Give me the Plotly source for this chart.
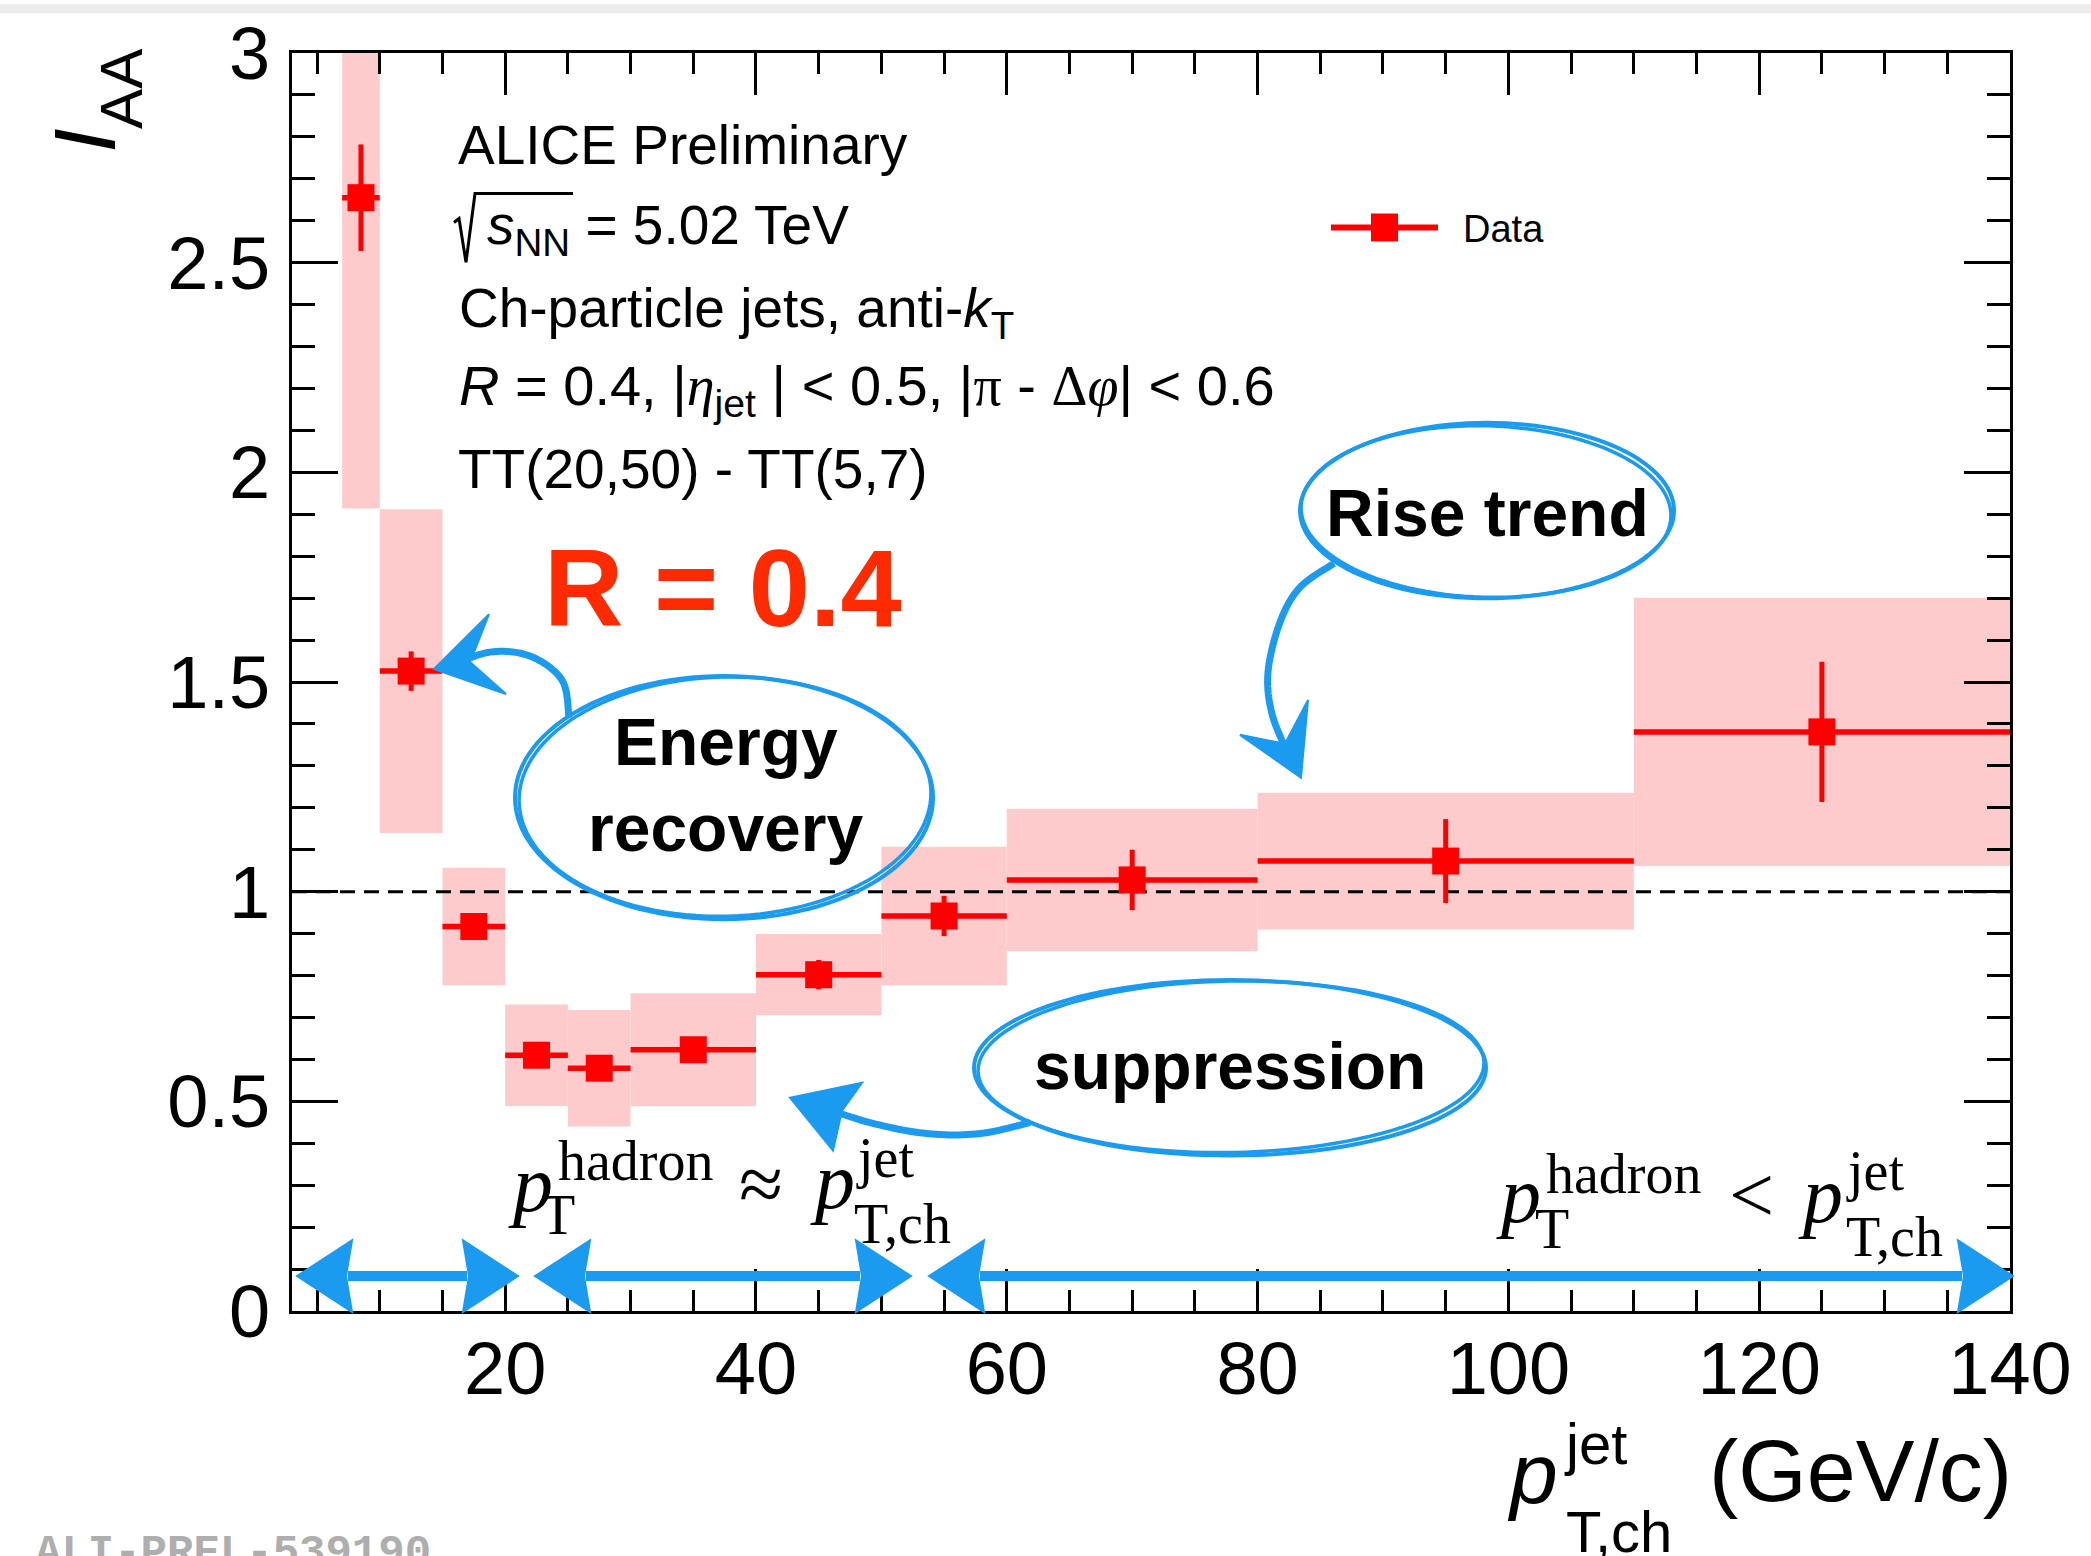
import math
import plotly.graph_objects as go

# ---------------- data ----------------
bin_lo = [7, 10, 15, 20, 25, 30, 40, 50, 60, 80, 110]
bin_hi = [10, 15, 20, 25, 30, 40, 50, 60, 80, 110, 140]
pt_center = [8.5, 12.5, 17.5, 22.5, 27.5, 35, 45, 55, 70, 95, 125]
iaa = [2.655, 1.526, 0.917, 0.610, 0.579, 0.623, 0.802, 0.942, 1.028, 1.073, 1.381]
stat_err = [0.127, 0.047, 0.02, 0.02, 0.02, 0.02, 0.035, 0.048, 0.072, 0.10, 0.167]
sys_err = [0.741, 0.386, 0.14, 0.121, 0.139, 0.135, 0.097, 0.165, 0.17, 0.163, 0.32]

x_ticks = [20, 40, 60, 80, 100, 120, 140]
y_ticks = [0, 0.5, 1, 1.5, 2, 2.5, 3]
x_range = [3, 140]
y_range = [0, 3]
ref_level = 1.0

# ---------------- geometry helpers ----------------
W, H = 2091, 1556
L, R, T, B = 292, 2010, 49, 1311
SANS = "Liberation Sans, Arial, Helvetica, sans-serif"
SERIF = "Liberation Serif, Times New Roman, serif"
MONO = "Liberation Mono, Courier New, monospace"
BLUE = "#1A9BF0"
PINK = "#FDCBCB"
RED = "#FF0000"


def px(x):
    return (x - L) / (R - L)


def py(y):
    return (B - y) / (B - T)


annotations = []
shapes = []


def txt(text, x, base, size, family=SANS, xanchor="left", color="black", asc=None):
    if asc is None:
        asc = 0.891 if family == SERIF else 0.905
    top = base - asc * size
    annotations.append(dict(
        text=text, x=px(x), y=py(top), xref="paper", yref="paper",
        xanchor=xanchor, yanchor="top", showarrow=False, borderpad=0,
        font=dict(family=family, size=size, color=color)))


def path_from_pts(pts, close=False):
    s = "M " + " L ".join(f"{px(a):.5f},{py(b):.5f}" for a, b in pts)
    return s + (" Z" if close else "")


def ellipse(cx, cy, rx, ry, rot=0.0, width=4, n=120):
    c, s_ = math.cos(math.radians(rot)), math.sin(math.radians(rot))
    pts = []
    for k in range(n + 1):
        t = 2 * math.pi * k / n
        ex, ey = rx * math.cos(t), ry * math.sin(t)
        pts.append((cx + ex * c - ey * s_, cy + ex * s_ + ey * c))
    shapes.append(dict(type="path", xref="paper", yref="paper",
                       path=path_from_pts(pts, True),
                       line=dict(color=BLUE, width=width), layer="above"))


def curve(pts, width=6):
    dense = []
    P = [pts[0]] + pts + [pts[-1]]
    for i in range(1, len(P) - 2):
        p0, p1, p2, p3 = P[i - 1], P[i], P[i + 1], P[i + 2]
        for j in range(12):
            t = j / 12
            t2, t3 = t * t, t * t * t
            xx = 0.5 * ((2 * p1[0]) + (-p0[0] + p2[0]) * t + (2 * p0[0] - 5 * p1[0] + 4 * p2[0] - p3[0]) * t2 + (-p0[0] + 3 * p1[0] - 3 * p2[0] + p3[0]) * t3)
            yy = 0.5 * ((2 * p1[1]) + (-p0[1] + p2[1]) * t + (2 * p0[1] - 5 * p1[1] + 4 * p2[1] - p3[1]) * t2 + (-p0[1] + 3 * p1[1] - 3 * p2[1] + p3[1]) * t3)
            dense.append((xx, yy))
    dense.append(pts[-1])
    shapes.append(dict(type="path", xref="paper", yref="paper",
                       path=path_from_pts(dense),
                       line=dict(color=BLUE, width=width), layer="above"))


def polygon(pts):
    shapes.append(dict(type="path", xref="paper", yref="paper",
                       path=path_from_pts(pts, True), fillcolor=BLUE,
                       line=dict(color=BLUE, width=2), layer="above"))


def double_arrow(x0, x1, y, hl=55, hh=36, th=10):
    shapes.append(dict(type="line", xref="paper", yref="paper",
                       x0=px(x0 + hl - 4), x1=px(x1 - hl + 4), y0=py(y), y1=py(y),
                       line=dict(color=BLUE, width=th), layer="above"))
    polygon([(x0, y), (x0 + hl, y - hh), (x0 + hl - 6, y), (x0 + hl, y + hh)])
    polygon([(x1, y), (x1 - hl, y - hh), (x1 - hl + 6, y), (x1 - hl, y + hh)])


# ---------------- traces ----------------
widths = [h - l for l, h in zip(bin_lo, bin_hi)]
half_w = [w / 2 for w in widths]
sys_base = [v - s for v, s in zip(iaa, sys_err)]
sys_len = [2 * s for s in sys_err]

fig = go.Figure()
fig.add_trace(go.Bar(x=pt_center, y=sys_len, base=sys_base, width=widths,
                     marker=dict(color=PINK, line=dict(width=0)),
                     showlegend=False, hoverinfo="skip"))
fig.add_trace(go.Scatter(x=x_range, y=[ref_level, ref_level], mode="lines",
                         line=dict(color="black", width=3, dash="15px,9px"),
                         showlegend=False, hoverinfo="skip"))
fig.add_trace(go.Scatter(x=pt_center, y=iaa, mode="markers",
                         marker=dict(symbol="square", size=27, color=RED, line=dict(width=0)),
                         error_x=dict(type="data", array=half_w, color=RED, thickness=5.5, width=0),
                         error_y=dict(type="data", array=stat_err, color=RED, thickness=5, width=0),
                         name="Data", showlegend=False))

# ---------------- text block ----------------
txt("ALICE Preliminary", 457, 159, 55)
txt("<i>s</i><sub>NN</sub> = 5.02 TeV", 486, 239, 55)
shapes.append(dict(type="path", xref="paper", yref="paper",
                   path=path_from_pts([(454, 219), (459, 215), (466, 259), (475, 190), (573, 190)]),
                   line=dict(color="black", width=3), layer="above"))
txt("Ch-particle jets, anti-<i>k</i><sub>T</sub>", 458, 322, 55)
txt("<i>R</i> = 0.4, |<span style=\"font-family:'Liberation Serif'\"><i>η</i></span><sub>jet</sub> | &lt; 0.5, "
    "|<span style=\"font-family:'Liberation Serif'\">π</span> - "
    "<span style=\"font-family:'Liberation Serif'\">Δ<i>φ</i></span>| &lt; 0.6", 458, 401, 56)
txt("TT(20,50) - TT(5,7)", 457, 484, 55)

# R = 0.4
txt("<b>R = 0.4</b>", 543, 622, 110, color="#FF2B00")

# legend (drawn by hand like the ROOT legend)
shapes.append(dict(type="line", xref="paper", yref="paper", x0=px(1331), x1=px(1438),
                   y0=py(224), y1=py(224), line=dict(color=RED, width=6)))
shapes.append(dict(type="rect", xref="paper", yref="paper", x0=px(1371), x1=px(1398),
                   y0=py(238), y1=py(210), fillcolor=RED, line=dict(width=0)))
txt("Data", 1462, 238, 38)

# bubble labels
txt("<b>Energy</b>", 726, 762, 66, xanchor="center")
txt("<b>recovery</b>", 726, 848, 66, xanchor="center")
txt("<b>Rise trend</b>", 1487, 532, 66, xanchor="center")
txt("<b>suppression</b>", 1230, 1087, 66, xanchor="center")

# ellipses (sketchy double strokes)
ellipse(724, 796, 209, 122, 0, 4)
ellipse(725, 795, 206, 120, -1.5, 3.5)
ellipse(1487, 508, 187, 88, 0, 4)
ellipse(1486, 509, 185, 86, 1.5, 3.5)
ellipse(1230, 1067, 256, 88, 0, 4)
ellipse(1231, 1066, 253, 86, -1.0, 3.5)

# curved arrows
curve([(569, 716), (562, 678), (530, 654), (490, 650), (450, 664)], 7)
polygon([(434, 667), (489, 612), (470, 660), (506, 692)])
curve([(1334, 561), (1300, 585), (1280, 620), (1268, 670), (1272, 712), (1288, 752)], 7)
polygon([(1301, 776), (1240, 733), (1285, 742), (1308, 698)])
curve([(1030, 1122), (980, 1133), (927, 1133), (870, 1122), (815, 1104)], 7)
polygon([(790, 1097), (862, 1082), (842, 1110), (833, 1150)])

# bottom double arrows
double_arrow(297, 518, 1276)
double_arrow(535, 911, 1276)
double_arrow(929, 2013, 1276)

# kinematic relations (serif, ROOT-like)
txt("<i>p</i>", 507, 1210, 80, family=SERIF)
txt("hadron", 557, 1178, 56, family=SERIF)
txt("T", 540, 1232, 56, family=SERIF)
txt("≈", 738, 1210, 80, family=SERIF)
txt("<i>p</i>", 809, 1207, 80, family=SERIF)
txt("jet", 855, 1175, 56, family=SERIF)
txt("T,ch", 853, 1242, 56, family=SERIF)

txt("<i>p</i>", 1495, 1221, 80, family=SERIF)
txt("hadron", 1545, 1191, 56, family=SERIF)
txt("T", 1534, 1247, 56, family=SERIF)
txt("&lt;", 1728, 1221, 80, family=SERIF)
txt("<i>p</i>", 1797, 1221, 80, family=SERIF)
txt("jet", 1845, 1188, 56, family=SERIF)
txt("T,ch", 1845, 1255, 56, family=SERIF)

# x-axis title
txt("<i>p</i>", 1506, 1502, 86)
txt("jet", 1563, 1463, 58)
txt("T,ch", 1565, 1551, 58)
txt("(GeV/c)", 2013, 1500, 88, xanchor="right")

# y-axis title (rotated)
annotations.append(dict(text="<i>I</i>", x=px(85), y=py(137), xref="paper", yref="paper",
                        xanchor="center", yanchor="middle", textangle=-90, showarrow=False,
                        font=dict(family=SANS, size=88, color="black")))
annotations.append(dict(text="AA", x=px(122), y=py(85), xref="paper", yref="paper",
                        xanchor="center", yanchor="middle", textangle=-90, showarrow=False,
                        font=dict(family=SANS, size=60, color="black")))

# label at bottom-left
annotations.append(dict(text="<b>ALI-PREL-539190</b>", x=px(34), y=py(1528), xref="paper", yref="paper",
                        xanchor="left", yanchor="top", showarrow=False, borderpad=0,
                        font=dict(family=MONO, size=44, color="#AEAEAE")))

# thin gray strip at the very top of the picture
shapes.append(dict(type="rect", xref="paper", yref="paper", x0=px(0), x1=px(W),
                   y0=py(9), y1=py(0), fillcolor="#ECECEC", line=dict(width=0), layer="below"))

fig.update_layout(
    width=W, height=H,
    margin=dict(l=L, r=W - R, t=T, b=H - B, pad=0),
    paper_bgcolor="white", plot_bgcolor="white",
    barmode="overlay", showlegend=False,
    annotations=annotations, shapes=shapes,
    font=dict(family=SANS, color="black"),
)
fig.update_xaxes(range=x_range, tickmode="array", tickvals=x_ticks,
                 ticks="inside", ticklen=42, tickwidth=3, tickcolor="black",
                 minor=dict(dtick=5, tick0=0, ticks="inside", ticklen=21, tickwidth=3, tickcolor="black"),
                 showline=True, linewidth=3, linecolor="black", mirror="ticks",
                 showgrid=False, zeroline=False,
                 tickfont=dict(family=SANS, size=74, color="black"), ticklabelstandoff=-9)
fig.update_yaxes(range=y_range, tickmode="array", tickvals=y_ticks,
                 ticks="inside", ticklen=46, tickwidth=3, tickcolor="black",
                 minor=dict(dtick=0.1, tick0=0, ticks="inside", ticklen=23, tickwidth=3, tickcolor="black"),
                 showline=True, linewidth=3, linecolor="black", mirror="ticks",
                 showgrid=False, zeroline=False,
                 tickfont=dict(family=SANS, size=74, color="black"), ticklabelstandoff=4)

fig.write_html("out.html")
